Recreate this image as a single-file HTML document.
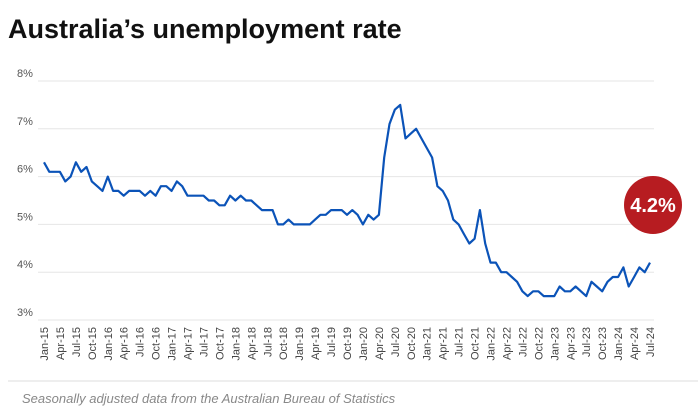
<!DOCTYPE html>
<html><head><meta charset="utf-8"><style>
body{margin:0;background:#fff;font-family:"Liberation Sans",sans-serif;}
</style></head><body>
<svg width="698" height="415" xmlns="http://www.w3.org/2000/svg">
<text x="8" y="38" font-size="27" font-weight="bold" fill="#111">Australia’s unemployment rate</text>
<g id="grid"></g><g id="xlab"></g>
<path id="line" fill="none" stroke="#0b53b8" stroke-width="2.2" stroke-linejoin="round"/>
<circle cx="653" cy="205" r="29" fill="#b71c21"/>
<text x="653" y="212" font-size="20" font-weight="bold" fill="#fff" text-anchor="middle">4.2%</text>
<line x1="8" y1="381" x2="698" y2="381" stroke="#ddd"/>
<text x="22" y="403" font-size="13" font-style="italic" fill="#888">Seasonally adjusted data from the Australian Bureau of Statistics</text>
</svg>
<script>
const yTicks=[3,4,5,6,7,8];
const years=[15,16,17,18,19,20,21,22,23,24];
const monthNames=["Jan","Apr","Jul","Oct"];
const rates=[6.3,6.1,6.1,6.1,5.9,6.0,6.3,6.1,6.2,5.9,5.8,5.7,
6.0,5.7,5.7,5.6,5.7,5.7,5.7,5.6,5.7,5.6,5.8,5.8,
5.7,5.9,5.8,5.6,5.6,5.6,5.6,5.5,5.5,5.4,5.4,5.6,
5.5,5.6,5.5,5.5,5.4,5.3,5.3,5.3,5.0,5.0,5.1,5.0,
5.0,5.0,5.0,5.1,5.2,5.2,5.3,5.3,5.3,5.2,5.3,5.2,
5.0,5.2,5.1,5.2,6.4,7.1,7.4,7.5,6.8,6.9,7.0,6.8,
6.6,6.4,5.8,5.7,5.5,5.1,5.0,4.8,4.6,4.7,5.3,4.6,
4.2,4.2,4.0,4.0,3.9,3.8,3.6,3.5,3.6,3.6,3.5,3.5,
3.5,3.7,3.6,3.6,3.7,3.6,3.5,3.8,3.7,3.6,3.8,3.9,
3.9,4.1,3.7,3.9,4.1,4.0,4.2];
const NS="http://www.w3.org/2000/svg";
const x0=44,x1=650,y3=320,pxPer=47.8;
const xs=i=>x0+i*(x1-x0)/(rates.length-1);
const ys=v=>y3-(v-3)*pxPer;
const g=document.getElementById('grid');
yTicks.forEach(t=>{
 const l=document.createElementNS(NS,'line');
 l.setAttribute('x1',38);l.setAttribute('x2',654);l.setAttribute('y1',ys(t));l.setAttribute('y2',ys(t));
 l.setAttribute('stroke','#e6e6e6');
 
 
 g.appendChild(l);
 const tx=document.createElementNS(NS,'text');
 tx.setAttribute('x',17);tx.setAttribute('y',ys(t)-4);tx.setAttribute('font-size',11);tx.setAttribute('fill','#555');
 tx.textContent=t+'%';
 
 
 g.appendChild(tx);
});
const xl=document.getElementById('xlab');
for(let i=0;i<rates.length;i+=3){
 const yr=years[Math.floor(i/12)];
 const m=monthNames[(i%12)/3];
 const tx=document.createElementNS(NS,'text');
 const x=xs(i)+4;
 tx.setAttribute('transform','translate('+x+',327) rotate(-90)');
 tx.setAttribute('text-anchor','end');tx.setAttribute('font-size',11);tx.setAttribute('fill','#444');
 tx.textContent=m+'-'+yr;
 
 
 xl.appendChild(tx);
}
document.getElementById('line').setAttribute('d',rates.map((v,i)=>(i?'L':'M')+xs(i).toFixed(1)+','+ys(v).toFixed(1)).join(''));
</script>
</body></html>
